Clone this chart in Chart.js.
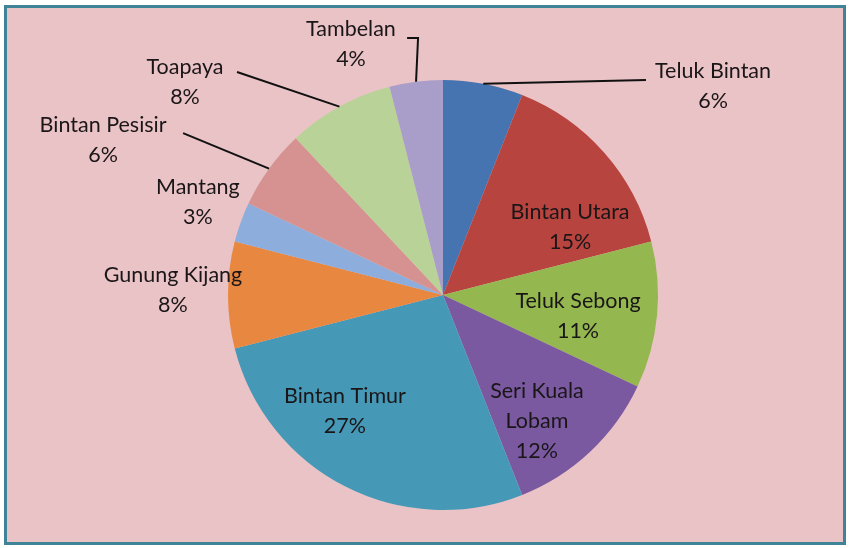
<!DOCTYPE html>
<html>
<head>
<meta charset="utf-8">
<script src="https://cdn.jsdelivr.net/npm/chart.js@4"></script>
<style>
    body { margin: 0; background: #ffffff; }
    #frame {
        position: absolute; left: 4px; top: 5px;
        width: 836px; height: 534px;
        border: 3px solid #3f8496;
        background: #eac3c6;
    }
</style>
</head>
<body>
<div id="frame"><canvas id="pieChart" width="836" height="534"></canvas></div>
<script>
// Kecamatan di Kabupaten Bintan (urutan searah jarum jam dari atas)
const regions = ['Teluk Bintan', 'Bintan Utara', 'Teluk Sebong', 'Seri Kuala Lobam', 'Bintan Timur',
                 'Gunung Kijang', 'Mantang', 'Bintan Pesisir', 'Toapaya', 'Tambelan'];
const shares = [6, 15, 11, 12, 27, 8, 3, 6, 8, 4];
const sliceColors = ['#4674b1', '#b8443f', '#94b750', '#7a59a0', '#4599b7',
                     '#e8873f', '#8daedc', '#d69291', '#b9d298', '#a99dc9'];

// label text lines
const labelLines = [
    ['Teluk Bintan'], ['Bintan Utara'], ['Teluk Sebong'], ['Seri Kuala', 'Lobam'], ['Bintan Timur'],
    ['Gunung Kijang'], ['Mantang'], ['Bintan Pesisir'], ['Toapaya'], ['Tambelan']
];
// label block centres, in pie radii from the centre
const labelSpots = [
    [1.256, -0.972], [0.591, -0.316], [0.628, 0.098], [0.437, 0.586], [-0.456, 0.540],
    [-1.256, -0.023], [-1.14, -0.433], [-1.581, -0.721], [-1.2, -0.991], [-0.428, -1.167]
];
// leader line bends (radii units), null = no line
const leaders = [
    [[0.944, -1.0]], null, null, null, null,
    null, null, [[-1.209, -0.753]], [[-0.958, -1.037]], [[-0.116, -1.195], [-0.167, -1.195]]
];

const labelPlugin = {
    id: 'sliceLabels',
    afterDatasetsDraw(chart) {
        const ctx = chart.ctx;
        const meta = chart.getDatasetMeta(0);
        ctx.save();
        meta.data.forEach((arc, i) => {
            const p = arc.getProps(['x', 'y', 'outerRadius', 'startAngle', 'endAngle'], true);
            const r = p.outerRadius;
            const mid = (p.startAngle + p.endAngle) / 2;

            // leader line
            if (leaders[i]) {
                ctx.beginPath();
                ctx.moveTo(p.x + Math.cos(mid) * r, p.y + Math.sin(mid) * r);
                leaders[i].forEach(pt => ctx.lineTo(p.x + pt[0] * r, p.y + pt[1] * r));
                ctx.strokeStyle = '#111111';
                ctx.lineWidth = 2;
                ctx.stroke();
            }

            // text
            const lines = labelLines[i].concat([shares[i] + '%']);
            const lh = 30;
            const cx = p.x + labelSpots[i][0] * r;
            const cy = p.y + labelSpots[i][1] * r - (lines.length - 1) * lh / 2;
            ctx.font = '21.5px Lato, "Open Sans", sans-serif';
            ctx.fillStyle = '#1a1618';
            ctx.textAlign = 'center';
            ctx.textBaseline = 'middle';
            lines.forEach((t, k) => ctx.fillText(t, cx, cy + k * lh));
        });
        ctx.restore();
    }
};

new Chart(document.getElementById('pieChart'), {
    type: 'pie',
    data: {
        labels: regions,
        datasets: [{
            data: shares,
            backgroundColor: sliceColors,
            borderWidth: 0
        }]
    },
    options: {
        responsive: false,
        animation: false,
        layout: { padding: { left: 221, right: 185, top: 72, bottom: 32 } },
        plugins: {
            legend: { display: false },
            tooltip: { enabled: false }
        }
    },
    plugins: [labelPlugin]
});
</script>
</body>
</html>
